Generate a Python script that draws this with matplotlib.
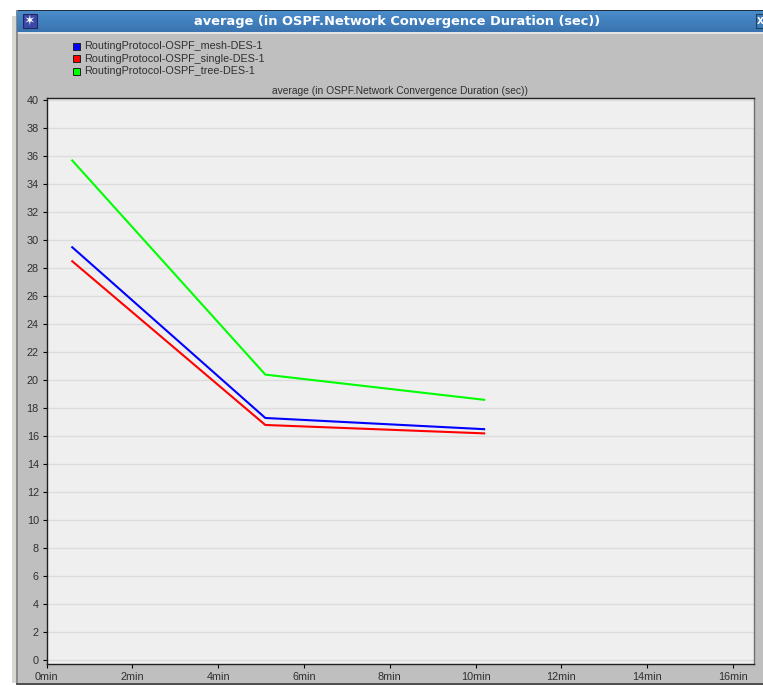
import matplotlib
matplotlib.use("Agg")
import matplotlib.pyplot as plt
from matplotlib.patches import Rectangle
import numpy as np

W, H = 763, 685

title = "average (in OSPF.Network Convergence Duration (sec))"
minutes = [0.6, 5.1, 10.2]
mesh = [29.5, 17.3, 16.5]
single = [28.5, 16.8, 16.2]
tree = [35.7, 20.4, 18.6]
names = ["RoutingProtocol-OSPF_mesh-DES-1", "RoutingProtocol-OSPF_single-DES-1", "RoutingProtocol-OSPF_tree-DES-1"]
colors = ["#0000ff", "#ff0000", "#00ff00"]
xticks = [0, 2, 4, 6, 8, 10, 12, 14, 16]
yticks = list(range(0, 42, 2))

plt.rcParams['font.family'] = ['Liberation Sans', 'DejaVu Sans']

fig = plt.figure(figsize=(W / 100, H / 100), dpi=100, facecolor="white")


def px_rect(x, y, w, h, **kw):
    # rectangle in image pixels, y measured from the top
    fig.patches.append(Rectangle((x / W, 1 - (y + h) / H), w / W, h / H, transform=fig.transFigure, **kw))


# window behind the chart
px_rect(12, 16, 6, 667, facecolor="#d8d8d0", edgecolor="none")
px_rect(16, 10, 747, 673, facecolor="#bfbfbf", edgecolor="none")
px_rect(16, 10, 747, 1, facecolor="#20303c", edgecolor="none")
px_rect(16, 32, 747, 2, facecolor="#e4e4e4", edgecolor="none")
px_rect(16, 683, 747, 2, facecolor="#505050", edgecolor="none")
px_rect(16, 10, 2, 673, facecolor="#8a8a8a", edgecolor="none")

# title bar gradient
bar = fig.add_axes([17 / W, 1 - 32 / H, 746 / W, 21 / H], zorder=2)
bar.imshow(np.linspace(0, 1, 32).reshape(-1, 1), aspect="auto", cmap=matplotlib.colors.LinearSegmentedColormap.from_list("b", ["#4a8ccc", "#3a74b0"]))
bar.axis("off")
fig.patches.append(Rectangle((23 / W, 1 - 28 / H), 14 / W, 14 / H, transform=fig.transFigure, facecolor="#3b4aa8", edgecolor="#202a60", lw=0.8, zorder=5))
fig.patches.append(Rectangle((756 / W, 1 - 28 / H), 8 / W, 14 / H, transform=fig.transFigure, facecolor="#3f7dbb", edgecolor="#20405c", lw=0.8, zorder=5))
fig.text(30 / W, 1 - 21 / H, "✶", color="white", fontsize=10, ha="center", va="center", family="DejaVu Sans", zorder=6)
fig.text(397 / W, 1 - 21.5 / H, title, color="white", fontsize=9.4, fontweight="bold", ha="center", va="center", family="DejaVu Sans", zorder=6)
fig.text(757 / W, 1 - 21 / H, "X", color="white", fontsize=6.5, fontweight="bold", ha="left", va="center", family="DejaVu Sans", zorder=6)

# legend
for i, (name, c) in enumerate(zip(names, colors)):
    y = 46 + i * 12.7
    px_rect(72.5, y - 3.5, 7, 7, facecolor=c, edgecolor="#202020", lw=0.7)
    fig.text(84.5 / W, 1 - y / H, name, fontsize=7.75, color="#303030", ha="left", va="center")

fig.text(400 / W, 1 - 90.5 / H, title, fontsize=7.4, color="#303030", ha="center", va="center")

# plot area
left, right, top, bottom = 46.5, 754, 97.5, 664
ax = fig.add_axes([left / W, 1 - bottom / H, (right - left) / W, (bottom - top) / H], facecolor="#efefef", zorder=2)
ax.plot(minutes, mesh, color=colors[0], lw=1.5, zorder=3)
ax.plot(minutes, single, color=colors[1], lw=1.5, zorder=3)
ax.plot(minutes, tree, color=colors[2], lw=1.5, zorder=3)
ax.set_xlim(0, 16.49)
ax.set_ylim(-0.28, 40.2)
ax.set_xticks(xticks)
ax.set_xticklabels([f"{t}min" for t in xticks])
ax.set_yticks(yticks)
ax.grid(axis="y", color="#dcdcdc", lw=1)
ax.set_axisbelow(True)
ax.tick_params(axis="both", labelsize=7.8, labelcolor="#303030", length=3, width=0.8, pad=2.5)
for s in ax.spines.values():
    s.set_linewidth(1)
    s.set_color("#202020")
ax.spines["right"].set_color("#707070")

fig.savefig("out.png", dpi=100, facecolor="white")
